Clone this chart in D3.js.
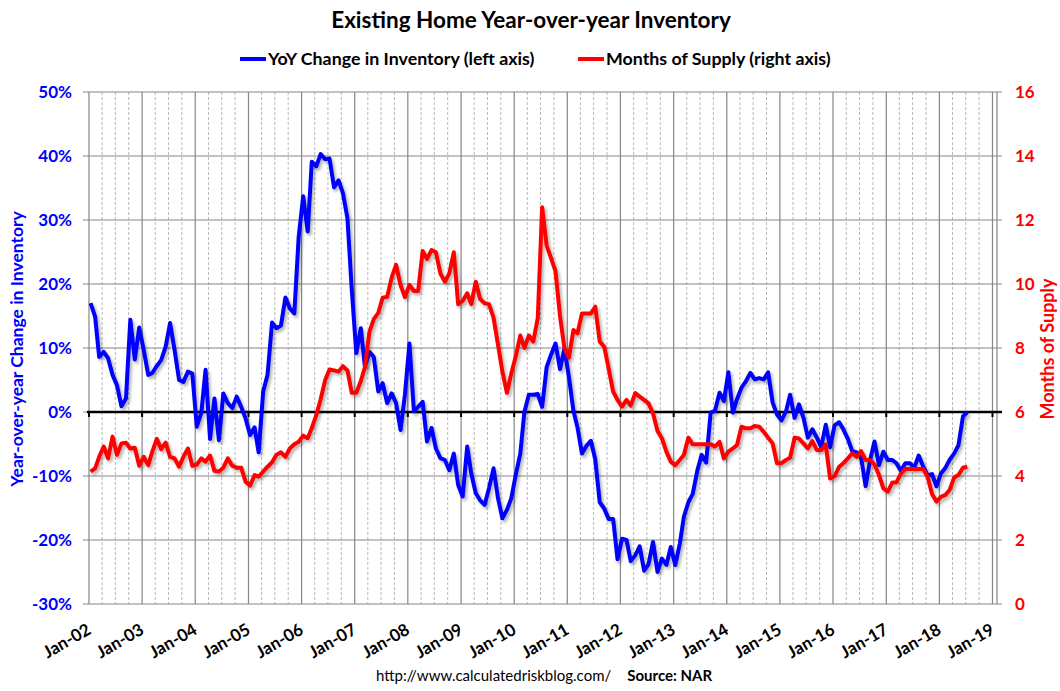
<!DOCTYPE html>
<html>
<head>
<meta charset="utf-8">
<script src="https://cdn.jsdelivr.net/npm/d3@7"></script>
<style>
    body { margin: 0; background: #fff; }
    svg { font-family: Lato, "Open Sans", sans-serif; }
</style>
</head>
<body>
<svg id="chart" width="1060" height="691"></svg>
<script>
// Monthly series, starting Jan-2002
var startYear = 2002;

// YoY change in inventory (%), left axis
var yoyChange = [
    17.0, 14.9, 8.6, 9.4, 8.4, 5.8, 4.2, 0.9, 2.1, 14.4, 8.2, 13.2,
    9.7, 5.8, 6.1, 7.2, 8.1, 10.2, 13.9, 9.7, 5.0, 4.7, 6.3, 6.0,
    -2.3, -0.1, 6.6, -4.2, 2.1, -4.4, 2.9, 1.4, 0.6, 2.4, 0.8, -1.0,
    -3.6, -2.4, -6.3, 3.2, 5.8, 14.0, 13.1, 13.5, 17.9, 16.2, 15.4, 27.4,
    33.7, 28.2, 39.1, 38.4, 40.3, 39.5, 39.6, 35.1, 36.2, 34.2, 30.3, 19.1,
    9.2, 13.1, 7.1, 9.4, 8.6, 3.2, 4.5, 1.4, 2.9, 1.4, -2.8, 2.7,
    10.7, 0.1, 0.8, 1.6, -4.6, -2.5, -5.7, -7.2, -7.5, -9.1, -6.5, -11.4,
    -13.2, -5.4, -9.6, -12.7, -13.8, -14.5, -11.9, -8.8, -13.5, -16.6, -15.3, -13.5,
    -9.8, -6.5, 0.0, 2.7, 2.7, 2.8, 0.8, 7.0, 9.0, 10.7, 6.7, 9.9,
    5.5, 0.2, -2.4, -6.5, -5.3, -4.5, -7.4, -14.1, -15.1, -16.7, -16.7, -23.0,
    -19.8, -20.0, -23.3, -22.4, -21.0, -24.8, -23.8, -20.3, -25.0, -22.9, -23.9, -21.1,
    -23.9, -20.6, -16.4, -14.1, -12.8, -9.2, -6.7, -7.9, -0.1, 0.2, 3.0, 1.7,
    6.2, -0.1, 2.0, 3.8, 4.8, 6.1, 5.1, 5.3, 5.1, 6.2, 1.5, -0.4,
    -1.3, 0.1, 2.7, -0.9, 1.2, -0.9, -4.0, -2.7, -4.0, -5.5, -2.0, -5.5,
    -2.1, -1.6, -2.7, -4.2, -6.1, -6.3, -7.1, -11.6, -7.5, -4.6, -8.3, -6.2,
    -7.5, -7.5, -8.0, -9.2, -8.0, -8.0, -8.7, -6.8, -8.5, -9.9, -9.7, -11.6,
    -9.6, -8.7, -7.5, -6.5, -5.2, -0.7, 0.0
];

// Months of supply, right axis
var monthsSupply = [
    4.14, 4.24, 4.6, 4.92, 4.55, 5.23, 4.66, 5.02, 5.04, 4.86, 4.88, 4.32,
    4.6, 4.34, 4.76, 5.16, 4.84, 5.04, 4.6, 4.55, 4.29, 4.6, 4.86, 4.32,
    4.36, 4.55, 4.45, 4.64, 4.16, 4.14, 4.26, 4.55, 4.32, 4.26, 4.26, 3.82,
    3.7, 4.03, 3.98, 4.14, 4.29, 4.43, 4.66, 4.74, 4.6, 4.86, 4.99, 5.07,
    5.26, 5.18, 5.5, 5.9, 6.4, 7.0, 7.33, 7.3, 7.26, 7.43, 7.3, 6.6,
    6.6, 6.97, 7.4, 8.5, 8.9, 9.1, 9.57, 9.6, 10.2, 10.6, 9.97, 9.59,
    9.97, 9.78, 9.78, 11.03, 10.78, 11.06, 10.99, 10.33, 10.07, 10.33, 10.99, 9.37,
    9.47, 9.71, 9.37, 10.07, 9.53, 9.4, 9.37, 8.95, 8.1, 7.26, 6.6, 7.2,
    7.74, 8.39, 8.0, 8.39, 8.2, 8.93, 12.4, 11.2, 10.8, 10.4, 9.0, 8.0,
    7.7, 8.56, 8.46, 9.08, 9.08, 9.08, 9.29, 8.2, 8.04, 7.36, 6.64, 6.38,
    6.17, 6.38, 6.2, 6.59, 6.48, 6.38, 6.27, 5.96, 5.41, 5.18, 4.76, 4.45,
    4.34, 4.5, 4.66, 5.2, 4.99, 4.99, 4.99, 4.99, 4.99, 4.92, 5.07, 4.55,
    4.76, 4.86, 4.97, 5.54, 5.49, 5.49, 5.56, 5.54, 5.38, 5.2, 5.02, 4.4,
    4.4, 4.5, 4.57, 5.2, 5.17, 5.02, 4.86, 5.09, 4.81, 4.81, 4.99, 3.92,
    3.99, 4.29, 4.4, 4.55, 4.71, 4.6, 4.78, 4.5, 4.5, 4.36, 4.03, 3.61,
    3.51, 3.8, 3.8, 4.08, 4.22, 4.22, 4.22, 4.22, 4.22, 3.98, 3.43, 3.2,
    3.35, 3.41, 3.56, 3.95, 4.03, 4.26, 4.29
];

var xTickLabels = ["Jan-02", "Jan-03", "Jan-04", "Jan-05", "Jan-06", "Jan-07", "Jan-08", "Jan-09", "Jan-10",
    "Jan-11", "Jan-12", "Jan-13", "Jan-14", "Jan-15", "Jan-16", "Jan-17", "Jan-18", "Jan-19"];
var leftTicks = [-30, -20, -10, 0, 10, 20, 30, 40, 50];
var rightTicks = [0, 2, 4, 6, 8, 10, 12, 14, 16];

var svg = d3.select("#chart");

// plot box
var plotLeft = 89, plotRight = 997, plotTop = 92, plotBottom = 604;

var x = d3.scaleTime()
    .domain([new Date(2002, 0, 1), new Date(2019, 1, 1)])
    .range([plotLeft, plotRight]);
var yLeft = d3.scaleLinear().domain([-30, 50]).range([plotBottom, plotTop]);
var yRight = d3.scaleLinear().domain([0, 16]).range([plotBottom, plotTop]);

function monthDate(i) {
    return new Date(startYear, i, 12);
}

// drop shadow like the original
var defs = svg.append("defs");
var f = defs.append("filter").attr("id", "shadow")
    .attr("x", "-5%").attr("y", "-5%").attr("width", "110%").attr("height", "110%");
f.append("feDropShadow").attr("dx", 2).attr("dy", 2.5).attr("stdDeviation", 1.6)
    .attr("flood-color", "#000").attr("flood-opacity", 0.3);

// quarter grid lines (dashed)
var quarters = d3.timeMonth.every(3).range(new Date(2002, 0, 1), new Date(2019, 1, 1))
    .filter(function (d) { return d.getMonth() != 0; });
svg.append("g").selectAll("line").data(quarters).join("line")
    .attr("x1", function (d) { return x(d); }).attr("x2", function (d) { return x(d); })
    .attr("y1", plotTop).attr("y2", plotBottom)
    .attr("stroke", "#b8b8b8").attr("stroke-width", 1).attr("stroke-dasharray", "3,2");

// year grid lines
var years = xTickLabels.map(function (t, i) { return new Date(startYear + i, 0, 1); });
svg.append("g").selectAll("line").data(years).join("line")
    .attr("x1", function (d) { return x(d); }).attr("x2", function (d) { return x(d); })
    .attr("y1", plotTop).attr("y2", plotBottom)
    .attr("stroke", "#868686").attr("stroke-width", 1.2);

// right border
svg.append("line").attr("x1", plotRight).attr("x2", plotRight).attr("y1", plotTop).attr("y2", plotBottom)
    .attr("stroke", "#868686").attr("stroke-width", 1.2);

// horizontal grid lines with small outer ticks
svg.append("g").selectAll("line").data(leftTicks).join("line")
    .attr("x1", plotLeft - 6).attr("x2", plotRight + 5)
    .attr("y1", function (d) { return yLeft(d); }).attr("y2", function (d) { return yLeft(d); })
    .attr("stroke", "#868686").attr("stroke-width", 1.2);

// zero line with year ticks
svg.append("line").attr("x1", plotLeft - 2).attr("x2", plotRight + 5)
    .attr("y1", yLeft(0)).attr("y2", yLeft(0))
    .attr("stroke", "#000").attr("stroke-width", 2.5);
svg.append("g").selectAll("line").data(years).join("line")
    .attr("x1", function (d) { return x(d); }).attr("x2", function (d) { return x(d); })
    .attr("y1", yLeft(0)).attr("y2", yLeft(0) + 5)
    .attr("stroke", "#000").attr("stroke-width", 2);

// left tick labels
svg.append("g").selectAll("text").data(leftTicks).join("text")
    .attr("x", 72).attr("y", function (d) { return yLeft(d); })
    .attr("dy", "0.36em").attr("text-anchor", "end")
    .style("font-size", "17px").style("font-weight", "bold").attr("fill", "#0000ff")
    .text(function (d) { return d + "%"; });

// right tick labels
svg.append("g").selectAll("text").data(rightTicks).join("text")
    .attr("x", 1015).attr("y", function (d) { return yRight(d); })
    .attr("dy", "0.36em").attr("text-anchor", "start")
    .style("font-size", "17px").style("font-weight", "bold").attr("fill", "#ff0000")
    .text(function (d) { return d; });

// x tick labels, rotated
svg.append("g").selectAll("text").data(years).join("text")
    .attr("transform", function (d) { return "translate(" + (x(d) + 3) + ",633) rotate(-30)"; })
    .attr("text-anchor", "end")
    .style("font-size", "17px").style("font-weight", "bold").attr("fill", "#000")
    .text(function (d, i) { return xTickLabels[i]; });

// series lines
var blueLine = d3.line()
    .x(function (d, i) { return x(monthDate(i)); })
    .y(function (d) { return yLeft(d); });
var redLine = d3.line()
    .x(function (d, i) { return x(monthDate(i)); })
    .y(function (d) { return yRight(d); });

svg.append("path").datum(yoyChange)
    .attr("d", blueLine).attr("fill", "none")
    .attr("stroke", "#0000ff").attr("stroke-width", 4).attr("stroke-linejoin", "round")
    .attr("filter", "url(#shadow)");
svg.append("path").datum(monthsSupply)
    .attr("d", redLine).attr("fill", "none")
    .attr("stroke", "#ff0000").attr("stroke-width", 4).attr("stroke-linejoin", "round")
    .attr("filter", "url(#shadow)");

// title
svg.append("text").attr("x", 531).attr("y", 28).attr("text-anchor", "middle")
    .style("font-size", "22.5px").style("font-weight", "bold").text("Existing Home Year-over-year Inventory");

// legend
svg.append("line").attr("x1", 240).attr("x2", 266).attr("y1", 59).attr("y2", 59)
    .attr("stroke", "#0000ff").attr("stroke-width", 4);
svg.append("text").attr("x", 268).attr("y", 65)
    .style("font-size", "17.8px").style("font-weight", "bold").text("YoY Change in Inventory (left axis)");
svg.append("line").attr("x1", 578).attr("x2", 604).attr("y1", 59).attr("y2", 59)
    .attr("stroke", "#ff0000").attr("stroke-width", 4);
svg.append("text").attr("x", 606).attr("y", 65)
    .style("font-size", "17.8px").style("font-weight", "bold").text("Months of Supply (right axis)");

// axis titles
svg.append("text").attr("transform", "translate(23,349) rotate(-90)")
    .attr("text-anchor", "middle").style("font-size", "17.5px").style("font-weight", "bold")
    .attr("fill", "#0000ff").text("Year-over-year Change in Inventory");
svg.append("text").attr("transform", "translate(1054,349) rotate(-90)")
    .attr("text-anchor", "middle").style("font-size", "18px").style("font-weight", "bold")
    .attr("fill", "#ff0000").text("Months of Supply");

// source line
var src = svg.append("text").attr("x", 376).attr("y", 681).style("font-size", "15px");
src.append("tspan").text("http://www.calculatedriskblog.com/");
src.append("tspan").attr("dx", 16).style("font-weight", "bold").text("Source: NAR");
</script>
</body>
</html>
